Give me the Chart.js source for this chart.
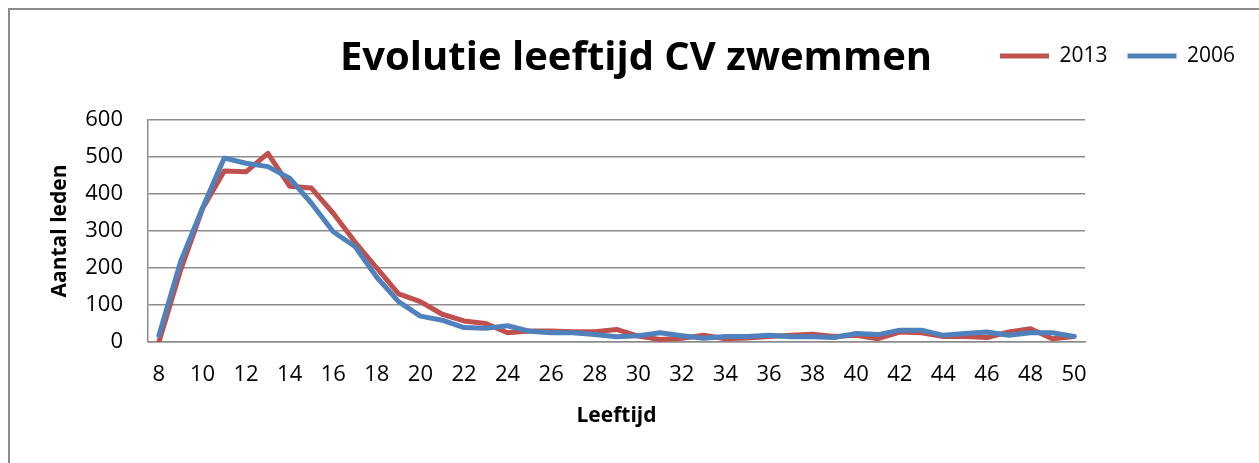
<!DOCTYPE html>
<html>
<head>
<meta charset="utf-8">
<script src="https://cdn.jsdelivr.net/npm/chart.js@4"></script>
<style>
  html, body { margin: 0; padding: 0; background: #fff; }
  #wrap { position: relative; width: 1259px; height: 463px; overflow: hidden; }
  #frame { position: absolute; left: 8px; top: 8px; width: 1400px; height: 600px;
           border-left: 2px solid #8c8c8c; border-top: 2px solid #8c8c8c; box-sizing: border-box; }
  canvas { position: absolute; left: 0; top: 0; }
</style>
</head>
<body>
<div id="wrap">
  <div id="frame"></div>
  <canvas id="c" width="1259" height="463"></canvas>
</div>
<script>
const ages = [8,9,10,11,12,13,14,15,16,17,18,19,20,21,22,23,24,25,26,27,28,29,30,31,32,33,34,35,36,37,38,39,40,41,42,43,44,45,46,47,48,49,50];
const values2013 = [0,195,360,462,460,510,421,416,348,270,200,130,109,75,57,50,25,30,30,28,28,34,16,7,10,18,9,11,15,18,21,15,18,9,27,25,15,15,12,27,36,9,15];
const values2006 = [18,218,362,497,483,474,443,375,298,258,175,109,70,59,39,37,44,29,25,25,20,14,17,25,17,10,15,15,18,14,14,12,23,20,32,32,18,23,27,18,25,25,15];
const yTicks = [0,100,200,300,400,500,600];
const titleText = 'Evolutie leeftijd CV zwemmen';
const xTitle = 'Leeftijd';
const yTitle = 'Aantal leden';

const FONT = '"Open Sans", Lato, sans-serif';
const PLOT_TOP = 120;

const placePlugin = {
  id: 'place',
  beforeLayout(chart) {
    chart.options.layout.padding.top = chart._topPad || 0;
  },
  afterLayout(chart) {
    // make the plot area start at PLOT_TOP regardless of title/legend box sizes
    if (chart.chartArea && Math.abs(chart.chartArea.top - PLOT_TOP) > 0.5 && !chart._fixing) {
      chart._topPad = (chart._topPad || 0) + (PLOT_TOP - chart.chartArea.top);
      chart._fixing = true;
      chart.options.layout.padding.top = chart._topPad;
      chart.update('none');
      chart._fixing = false;
      return;
    }
    const t = chart.titleBlock;
    if (t) { t.left = 0; t.right = 1272; t.top = 35; t.bottom = t.top + t.height; }
    const lg = chart.legend;
    if (lg) {
      const pad = lg.options.labels.padding;
      const fs = lg.options.labels.font.size;
      lg.left = 1000 - pad;
      lg.right = 1259;
      lg.width = lg.right - lg.left;
      lg.top = 56 - pad - fs / 2;
      lg.bottom = lg.top + lg.height;
    }
  }
};

new Chart(document.getElementById('c'), {
  type: 'line',
  data: {
    labels: ages,
    datasets: [
      { label: '2013', data: values2013, borderColor: '#C0504D', backgroundColor: '#C0504D',
        borderWidth: 5, pointRadius: 0, tension: 0, borderCapStyle: 'round', borderJoinStyle: 'round', order: 2 },
      { label: '2006', data: values2006, borderColor: '#4F81BD', backgroundColor: '#4F81BD',
        borderWidth: 5, pointRadius: 0, tension: 0, borderCapStyle: 'round', borderJoinStyle: 'round', order: 1 }
    ]
  },
  options: {
    responsive: false,
    animation: false,
    events: [],
    layout: { padding: { left: 0, top: 34, right: 174, bottom: 0 } },
    plugins: {
      title: {
        display: true, text: titleText, color: '#000',
        font: { family: FONT, size: 40, weight: 'bold', lineHeight: 1.2 },
        padding: { top: 0, bottom: 0 }
      },
      legend: {
        display: true, position: 'top', align: 'start',
        labels: {
          usePointStyle: true, pointStyle: 'line', pointStyleWidth: 49, boxHeight: 5,
          color: '#000', font: { family: FONT, size: 21 }, padding: 20,
          sort: (a, b) => a.datasetIndex - b.datasetIndex
        }
      },
      tooltip: { enabled: false }
    },
    scales: {
      x: {
        offset: true,
        grid: { display: false, drawTicks: false },
        border: { display: true, color: '#8c8c8c', width: 1.5 },
        ticks: {
          autoSkip: false, maxRotation: 0, minRotation: 0, padding: 20, color: '#000',
          font: { family: FONT, size: 22 },
          callback: function(v, i) { const a = ages[i]; return a % 2 === 0 ? String(a) : ''; }
        },
        title: { display: true, text: xTitle, color: '#000',
          font: { family: FONT, size: 21, weight: 'bold', lineHeight: 1.2 },
          padding: { top: 0, bottom: 34 } },
        afterFit(s) { s.height = 121; }
      },
      y: {
        min: 0, max: 600,
        afterBuildTicks(s) { s.ticks = yTicks.map(v => ({ value: v })); },
        grid: { color: '#8c8c8c', lineWidth: 1.5, drawTicks: false },
        border: { display: true, color: '#8c8c8c', width: 1.5 },
        ticks: { padding: 25, color: '#000', font: { family: FONT, size: 22 } },
        title: { display: true, text: yTitle, color: '#000',
          font: { family: FONT, size: 21, weight: 'bold', lineHeight: 1.2 },
          padding: { top: 47, bottom: 0 } },
        afterFit(s) { s.width = 148; }
      }
    }
  },
  plugins: [placePlugin]
});
</script>
</body>
</html>
